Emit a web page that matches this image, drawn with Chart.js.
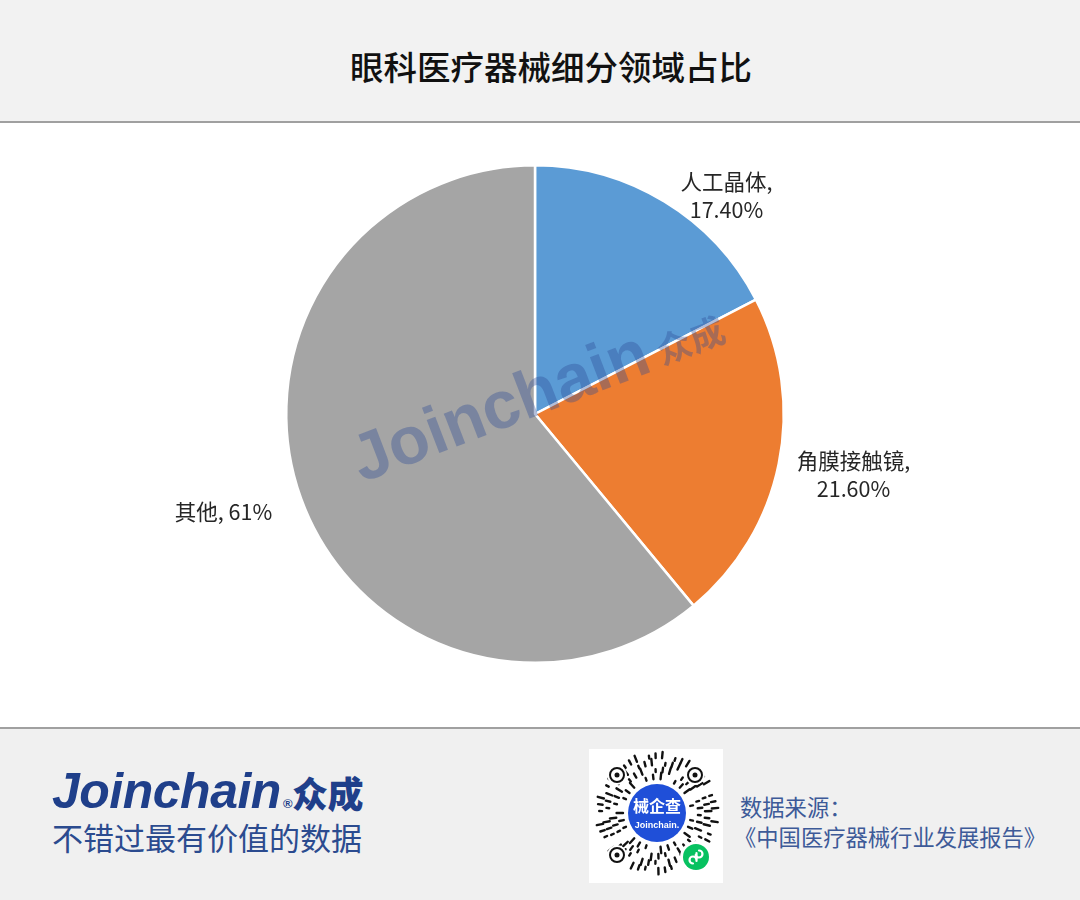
<!DOCTYPE html>
<html>
<head>
<meta charset="utf-8">
<script src="https://cdn.jsdelivr.net/npm/chart.js@4.4.0/dist/chart.umd.min.js"></script>
<style>
  body { margin: 0; width: 1080px; height: 900px; overflow: hidden; background: #fff;
         font-family: "Noto Sans CJK SC", "Noto Sans", sans-serif; }
  #header { position: absolute; left: 0; top: 0; width: 1080px; height: 121px; background: #f2f2f2;
            border-bottom: 2px solid #a0a0a0; }
  #title { position: absolute; left: 11px; top: 43px; width: 1080px; text-align: center;
           font-size: 33.5px; line-height: 46px; color: #111; font-weight: 500; }
  #chartBox { position: absolute; left: 0; top: 123px; width: 1080px; height: 604px; }
  #footer { position: absolute; left: 0; top: 727px; width: 1080px; height: 173px; background: #f0f0f0;
            border-top: 2px solid #a0a0a0; }
  #logo { position: absolute; left: 52px; top: 34px; font-family: "Liberation Sans", Arial, sans-serif;
          font-weight: bold; font-style: italic; font-size: 50px; line-height: 56px; color: #1f3f8a; letter-spacing: -0.5px; }
  #logo .reg { font-size: 13px; font-style: normal; vertical-align: baseline; margin-left: 2px; }
  #logo .cn { font-family: "Noto Sans CJK SC", sans-serif; font-style: normal; font-size: 36px; font-weight: 900; }
  #slogan { position: absolute; left: 52px; top: 88px; font-size: 31px; line-height: 40px; color: #2b4b8f; }
  #qr { position: absolute; left: 589px; top: 20px; }
  #source { position: absolute; left: 740px; top: 62px; font-size: 22.3px; line-height: 30px; color: #3d5a98; }
  #source .book { margin-left: -6px; }
</style>
</head>
<body>
<div id="header"><div id="title">眼科医疗器械细分领域占比</div></div>
<div id="chartBox"><canvas id="pieChart" width="1080" height="604"></canvas></div>
<div id="footer">
  <div id="logo">Joinchain<span class="reg">®</span><span class="cn">众成</span></div>
  <div id="slogan">不错过最有价值的数据</div>
  <canvas id="qr" width="134" height="134"></canvas>
  <div id="source">数据来源：<br><span class="book">《中国医疗器械行业发展报告》</span></div>
</div>
<script>
// data
const categories = ['人工晶体', '角膜接触镜', '其他'];
const shares = [17.4, 21.6, 61];
const shareLabels = ['17.40%', '21.60%', '61%'];
const colors = ['#5b9bd5', '#ed7d31', '#a5a5a5'];

// outside labels, drawn next to each arc
const sliceLabels = {
    id: 'sliceLabels',
    afterDatasetsDraw(chart, args, opts) {
        const ctx = chart.ctx;
        const meta = chart.getDatasetMeta(0);
        ctx.save();
        ctx.font = '21.5px "Noto Sans CJK SC", sans-serif';
        ctx.fillStyle = '#262626';
        ctx.textAlign = 'center';
        ctx.textBaseline = 'middle';
        meta.data.forEach((arc, i) => {
            const mid = (arc.startAngle + arc.endAngle) / 2;
            const r = arc.outerRadius + opts.distance;
            const nudge = opts.nudge[i];
            const x = arc.x + Math.cos(mid) * r + nudge[0];
            const y = arc.y + Math.sin(mid) * r + nudge[1];
            const name = categories[i] + ',';
            if (opts.oneLine[i]) {
                ctx.fillText(name + ' ' + shareLabels[i], x, y);
            } else {
                ctx.fillText(name, x, y - 14);
                ctx.fillText(shareLabels[i], x, y + 14);
            }
        });
        ctx.restore();
    }
};

// faint brand mark across the pie
const watermark = {
    id: 'watermark',
    afterDatasetsDraw(chart) {
        const ctx = chart.ctx;
        ctx.save();
        ctx.translate(537, 268);
        ctx.rotate(-21 * Math.PI / 180);
        ctx.fillStyle = 'rgba(45,75,150,0.36)';
        ctx.textBaseline = 'alphabetic';
        ctx.textAlign = 'left';
        ctx.font = 'bold 67px "Liberation Sans", Arial, sans-serif';
        const w = ctx.measureText('Joinchain').width;
        ctx.font = 'bold 35px "Noto Sans CJK SC", sans-serif';
        const w2 = ctx.measureText('众成').width;
        const start = -(w + 10 + w2) / 2;
        ctx.font = 'bold 67px "Liberation Sans", Arial, sans-serif';
        ctx.fillText('Joinchain', start, 23);
        ctx.font = 'bold 35px "Noto Sans CJK SC", sans-serif';
        ctx.fillText('众成', start + w + 10, 21);
        ctx.restore();
    }
};

const pieChart = new Chart(document.getElementById('pieChart').getContext('2d'), {
    type: 'pie',
    data: {
        labels: categories,
        datasets: [{
            data: shares,
            backgroundColor: colors,
            borderColor: '#ffffff',
            borderWidth: 2.5
        }]
    },
    options: {
        responsive: false,
        animation: false,
        layout: { padding: { left: 285, right: 295, top: 41, bottom: 63 } },
        plugins: {
            legend: { display: false },
            tooltip: { enabled: false },
            sliceLabels: {
                distance: 60,
                nudge: [[31, 46], [16, -1], [-21, -7]],
                oneLine: [false, false, true]
            }
        }
    },
    plugins: [watermark, sliceLabels]
});

// mini program code in the footer (decorative)
function drawQr() {
    const c = document.getElementById('qr').getContext('2d');
    c.fillStyle = '#fff';
    c.fillRect(0, 0, 134, 134);
    const cx = 68, cy = 64;
    c.strokeStyle = '#111';
    c.lineCap = 'round';
    c.lineWidth = 2.4;
    for (let ring = 0; ring < 4; ring++) {
        const rad = 34 + ring * 7;
        const n = 30 + ring * 8;
        for (let k = 0; k < n; k++) {
            if (((k * 7 + ring * 3) % 4) === 0) continue;
            const a = (k / n) * Math.PI * 2 + ring * 0.05;
            const len = 1 + ((k * 13 + ring * 5) % 4) * 1.8;
            const x1 = cx + Math.cos(a) * rad, y1 = cy + Math.sin(a) * rad;
            c.beginPath();
            c.moveTo(x1, y1);
            c.lineTo(cx + Math.cos(a) * (rad + len), cy + Math.sin(a) * (rad + len));
            c.stroke();
        }
    }
    // eyes
    [[28, 26], [106, 26], [28, 106]].forEach(p => {
        c.fillStyle = '#fff';
        c.beginPath(); c.arc(p[0], p[1], 10, 0, Math.PI * 2); c.fill();
        c.lineWidth = 2;
        c.beginPath(); c.arc(p[0], p[1], 7, 0, Math.PI * 2); c.stroke();
        c.fillStyle = '#111';
        c.beginPath(); c.arc(p[0], p[1], 2.5, 0, Math.PI * 2); c.fill();
    });
    c.fillStyle = '#fff';
    c.beginPath(); c.arc(cx, cy, 32, 0, Math.PI * 2); c.fill();
    c.fillStyle = '#1f4fd8';
    c.beginPath(); c.arc(cx, cy, 29, 0, Math.PI * 2); c.fill();
    c.fillStyle = '#fff';
    c.textAlign = 'center';
    c.font = 'bold 16px "Noto Sans CJK SC", sans-serif';
    c.fillText('械企查', cx, cy - 1);
    c.font = 'bold 9px "Liberation Sans", Arial, sans-serif';
    c.fillText('Joinchain.', cx, cy + 15);
    c.fillStyle = '#fff';
    c.beginPath(); c.arc(107, 108, 16, 0, Math.PI * 2); c.fill();
    c.fillStyle = '#07c160';
    c.beginPath(); c.arc(107, 108, 13, 0, Math.PI * 2); c.fill();
    c.strokeStyle = '#fff';
    c.lineWidth = 2.2;
    c.beginPath(); c.arc(104, 111, 3.5, Math.PI * 0.5, Math.PI * 1.9); c.stroke();
    c.beginPath(); c.arc(110, 105, 3.5, Math.PI * 1.5, Math.PI * 2.9); c.stroke();
    c.beginPath(); c.moveTo(107.5, 104); c.lineTo(107.5, 112); c.stroke();
}
drawQr();
</script>
</body>
</html>
